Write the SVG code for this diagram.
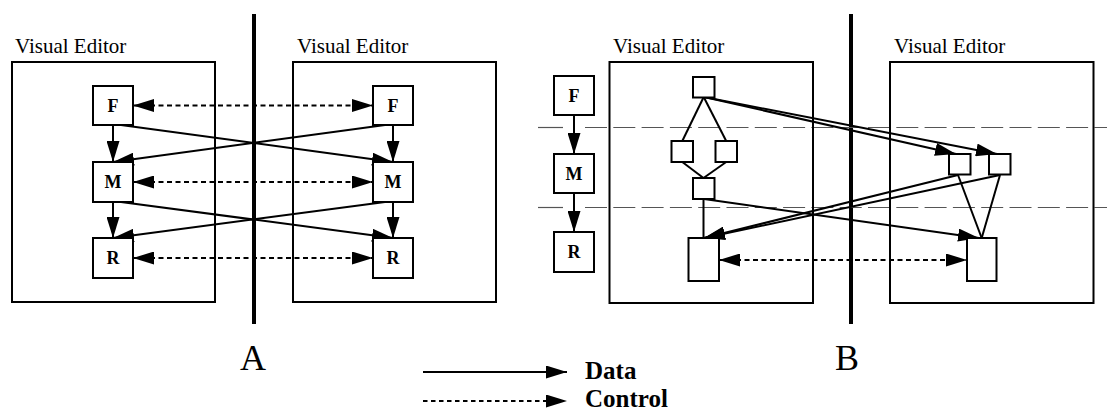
<svg xmlns="http://www.w3.org/2000/svg" width="1107" height="412" viewBox="0 0 1107 412">
<style>
  .box{fill:none;stroke:#000;stroke-width:2}
  .node{fill:#fff;stroke:#000;stroke-width:2}
  .lbl{font-family:"Liberation Serif","Times New Roman",serif;font-size:21px;fill:#000}
  .nl{font-family:"Liberation Serif","Times New Roman",serif;font-size:18px;font-weight:bold;text-anchor:middle;fill:#000}
  .big{font-family:"Liberation Serif","Times New Roman",serif;font-size:36px;text-anchor:middle;fill:#000}
  .leg{font-family:"Liberation Serif","Times New Roman",serif;font-size:25px;font-weight:bold;fill:#000}
  .data{fill:none;stroke:#000;stroke-width:2;marker-end:url(#ah)}
  .plain{fill:none;stroke:#000;stroke-width:2}
  .ctrl{fill:none;stroke:#000;stroke-width:2;stroke-dasharray:5 3.5;marker-end:url(#ah);marker-start:url(#ah)}
  .sep{stroke:#000;stroke-width:4}
  .dash{stroke:#555;stroke-width:1.2;fill:none}
</style>
<defs>
  <marker id="ah" markerUnits="userSpaceOnUse" markerWidth="21" markerHeight="13" refX="21" refY="6.5" orient="auto-start-reverse">
    <path d="M0,0 L21,6.5 L0,13 Z" fill="#000"/>
  </marker>
</defs>

<g id="separators">
  <line class="sep" x1="254" y1="14" x2="254" y2="324"/>
  <line class="sep" x1="851" y1="14" x2="851" y2="324"/>
</g>

<g id="stage-lines">
  <line class="dash" x1="538" y1="127.5" x2="563" y2="127.5"/>
  <line class="dash" x1="585" y1="127.5" x2="1107" y2="127.5" stroke-dasharray="22 6.3"/>
  <line class="dash" x1="538" y1="207.5" x2="563" y2="207.5"/>
  <line class="dash" x1="585" y1="207.5" x2="1107" y2="207.5" stroke-dasharray="22 6.3"/>
</g>

<g id="editorA1">
  <text class="lbl" x="15" y="52.5">Visual Editor</text>
  <rect class="box" x="12" y="62" width="203" height="240"/>
</g>
<g id="editorA2">
  <text class="lbl" x="297" y="52.5">Visual Editor</text>
  <rect class="box" x="293" y="62" width="203" height="240"/>
</g>
<g id="editorB1">
  <text class="lbl" x="613" y="52.5">Visual Editor</text>
  <rect class="box" x="609.5" y="62" width="203.5" height="241"/>
</g>
<g id="editorB2">
  <text class="lbl" x="894" y="52.5">Visual Editor</text>
  <rect class="box" x="890" y="62" width="203.5" height="241"/>
</g>

<g id="connectors">
  <line class="data" x1="113" y1="125" x2="113" y2="162"/>
  <line class="data" x1="113" y1="202" x2="113" y2="238"/>
  <line class="data" x1="393" y1="125" x2="393" y2="162"/>
  <line class="data" x1="393" y1="202" x2="393" y2="238"/>
  <line class="data" x1="121" y1="125" x2="393" y2="162"/>
  <line class="data" x1="385" y1="125" x2="113" y2="162"/>
  <line class="data" x1="121" y1="202" x2="393" y2="238"/>
  <line class="data" x1="385" y1="202" x2="113" y2="238"/>
  <line class="ctrl" x1="133" y1="105.5" x2="373" y2="105.5"/>
  <line class="ctrl" x1="133" y1="182" x2="373" y2="182"/>
  <line class="ctrl" x1="133" y1="258" x2="373" y2="258"/>
  <line class="data" x1="574" y1="115" x2="574" y2="154"/>
  <line class="data" x1="574" y1="193" x2="574" y2="232"/>
  <line class="plain" x1="703.7" y1="97" x2="682.3" y2="141"/>
  <line class="plain" x1="703.7" y1="97" x2="726.2" y2="141"/>
  <line class="plain" x1="682.3" y1="162" x2="703.5" y2="178"/>
  <line class="plain" x1="726.2" y1="162" x2="703.5" y2="178"/>
  <line class="plain" x1="703.5" y1="199" x2="703.5" y2="238"/>
  <line class="plain" x1="958" y1="175" x2="981.7" y2="238"/>
  <line class="plain" x1="1000" y1="175" x2="981.7" y2="238"/>
  <line class="data" x1="704" y1="97" x2="956" y2="154"/>
  <line class="data" x1="704" y1="97" x2="997" y2="154"/>
  <line class="data" x1="958" y1="175" x2="704" y2="238"/>
  <line class="data" x1="1000" y1="175" x2="704" y2="238"/>
  <line class="data" x1="704" y1="199" x2="979" y2="238"/>
  <line class="ctrl" x1="719" y1="260" x2="967" y2="260"/>
</g>

<g id="A-F-left"><rect class="node" x="93" y="86" width="40" height="39"/><text class="nl" x="113" y="111.5">F</text></g>
<g id="A-M-left"><rect class="node" x="93" y="162" width="40" height="40"/><text class="nl" x="113" y="188.3">M</text></g>
<g id="A-R-left"><rect class="node" x="93" y="238" width="40" height="40"/><text class="nl" x="113" y="264.3">R</text></g>
<g id="A-F-right"><rect class="node" x="373" y="86" width="40" height="39"/><text class="nl" x="393" y="111.5">F</text></g>
<g id="A-M-right"><rect class="node" x="373" y="162" width="40" height="40"/><text class="nl" x="393" y="188.3">M</text></g>
<g id="A-R-right"><rect class="node" x="373" y="238" width="40" height="40"/><text class="nl" x="393" y="264.3">R</text></g>

<g id="B-F"><rect class="node" x="554" y="76" width="40" height="39"/><text class="nl" x="574" y="101.5">F</text></g>
<g id="B-M"><rect class="node" x="554" y="154" width="40" height="39"/><text class="nl" x="574" y="179.8">M</text></g>
<g id="B-R"><rect class="node" x="554" y="232" width="40" height="40"/><text class="nl" x="574" y="258.3">R</text></g>

<g id="B-L-top"><rect class="node" x="693" y="77" width="21.5" height="20.5"/></g>
<g id="B-L-midL"><rect class="node" x="671.5" y="141" width="21.5" height="21"/></g>
<g id="B-L-midR"><rect class="node" x="715.5" y="141" width="21.5" height="21"/></g>
<g id="B-L-bot"><rect class="node" x="693" y="178" width="21.5" height="21"/></g>
<g id="B-L-big"><rect class="node" x="688.5" y="238" width="30.5" height="43"/></g>
<g id="B-R-n1"><rect class="node" x="949" y="154" width="21.5" height="20.5"/></g>
<g id="B-R-n2"><rect class="node" x="989" y="154" width="21.5" height="20.5"/></g>
<g id="B-R-big"><rect class="node" x="967" y="238" width="29.5" height="43"/></g>

<g id="labels">
  <text class="big" x="253" y="370">A</text>
  <text class="big" x="847" y="370">B</text>
</g>

<g id="legend">
  <line class="data" x1="423" y1="372" x2="567" y2="372"/>
  <line x1="423" y1="401" x2="567" y2="401" stroke="#000" stroke-width="2" stroke-dasharray="4.5 3.5" marker-end="url(#ah)"/>
  <text class="leg" x="585" y="379">Data</text>
  <text class="leg" x="585" y="407">Control</text>
</g>
</svg>
